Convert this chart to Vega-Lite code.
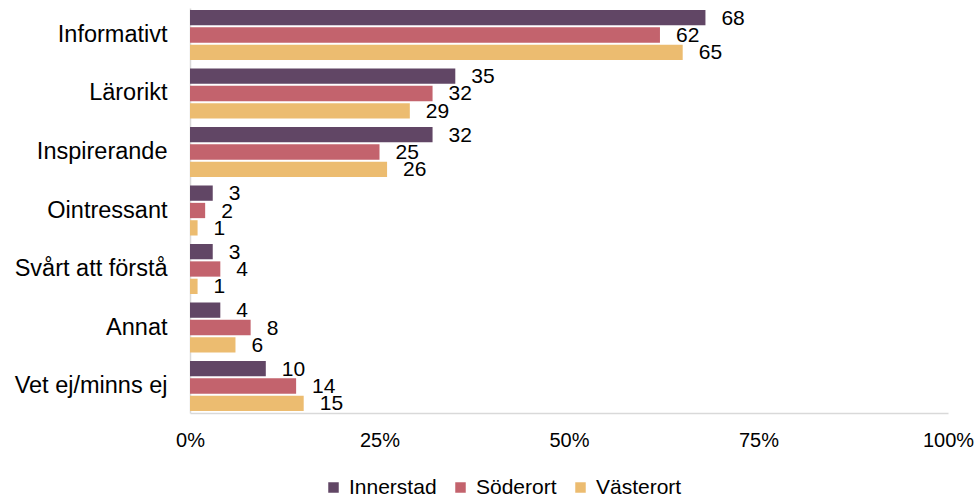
{
  "$schema": "https://vega.github.io/schema/vega-lite/v6.json",
  "autosize": {"type": "none"},
  "padding": {"left": 190, "top": 8, "right": 30, "bottom": 84},
  "width": 758,
  "height": 405,
  "config": {"view": {"stroke": null}, "font": "Liberation Sans"},
  "data": {"values": [
    {"cat": "Informativt", "serie": "Innerstad", "v": 68},
    {"cat": "Informativt", "serie": "Söderort", "v": 62},
    {"cat": "Informativt", "serie": "Västerort", "v": 65},
    {"cat": "Lärorikt", "serie": "Innerstad", "v": 35},
    {"cat": "Lärorikt", "serie": "Söderort", "v": 32},
    {"cat": "Lärorikt", "serie": "Västerort", "v": 29},
    {"cat": "Inspirerande", "serie": "Innerstad", "v": 32},
    {"cat": "Inspirerande", "serie": "Söderort", "v": 25},
    {"cat": "Inspirerande", "serie": "Västerort", "v": 26},
    {"cat": "Ointressant", "serie": "Innerstad", "v": 3},
    {"cat": "Ointressant", "serie": "Söderort", "v": 2},
    {"cat": "Ointressant", "serie": "Västerort", "v": 1},
    {"cat": "Svårt att förstå", "serie": "Innerstad", "v": 3},
    {"cat": "Svårt att förstå", "serie": "Söderort", "v": 4},
    {"cat": "Svårt att förstå", "serie": "Västerort", "v": 1},
    {"cat": "Annat", "serie": "Innerstad", "v": 4},
    {"cat": "Annat", "serie": "Söderort", "v": 8},
    {"cat": "Annat", "serie": "Västerort", "v": 6},
    {"cat": "Vet ej/minns ej", "serie": "Innerstad", "v": 10},
    {"cat": "Vet ej/minns ej", "serie": "Söderort", "v": 14},
    {"cat": "Vet ej/minns ej", "serie": "Västerort", "v": 15}
  ]},
  "encoding": {
    "y": {
      "field": "cat", "type": "nominal",
      "sort": ["Informativt", "Lärorikt", "Inspirerande", "Ointressant", "Svårt att förstå", "Annat", "Vet ej/minns ej"],
      "scale": {"paddingInner": 0.145, "paddingOuter": 0.034},
      "axis": {"title": null, "labelFontSize": 23.5, "labelColor": "#000000", "labelPadding": 23, "ticks": false, "domainColor": "#d9d9d9", "domainWidth": 1.5, "labelLimit": 300}
    },
    "yOffset": {
      "field": "serie", "type": "nominal",
      "sort": ["Innerstad", "Söderort", "Västerort"],
      "scale": {"paddingInner": 0.12}
    },
    "x": {
      "field": "v", "type": "quantitative",
      "scale": {"domain": [0, 100]},
      "axis": {"values": [0, 25, 50, 75, 100], "labelExpr": "datum.value + '%'", "labelFlush": false, "grid": false, "ticks": false, "title": null, "labelFontSize": 20, "labelColor": "#000000", "labelPadding": 17, "domainColor": "#d9d9d9", "domainWidth": 1.5}
    }
  },
  "layer": [
    {
      "mark": {"type": "bar"},
      "encoding": {
        "color": {
          "field": "serie", "type": "nominal",
          "sort": ["Innerstad", "Söderort", "Västerort"],
          "scale": {"domain": ["Innerstad", "Söderort", "Västerort"], "range": ["#614665", "#c3636d", "#ecbc70"]},
          "legend": {"title": null, "orient": "none", "direction": "horizontal", "gridAlign": "none", "legendX": 133, "legendY": 469, "symbolType": "square", "symbolSize": 110, "symbolStrokeWidth": 0, "symbolOpacity": 1, "labelFontSize": 21, "labelColor": "#000000", "labelOffset": 5, "columnPadding": 13}
        }
      }
    },
    {
      "mark": {"type": "text", "align": "left", "baseline": "middle", "dx": 16, "dy": 1, "fontSize": 21, "color": "#000000"},
      "encoding": {"text": {"field": "v", "type": "quantitative"}}
    }
  ]
}
